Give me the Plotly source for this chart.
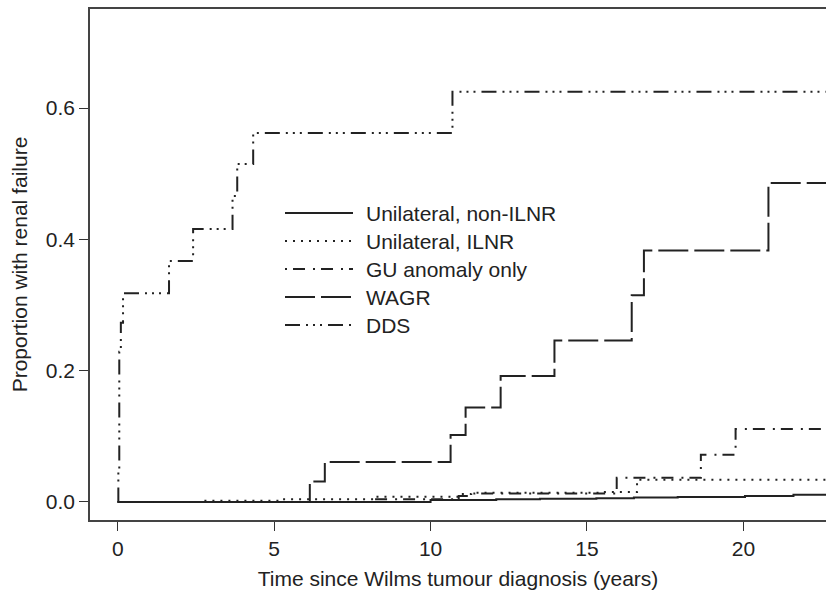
import plotly.graph_objects as go

X_END = 22.64

# Step-function (Kaplan-Meier style) data
non_ilnr_t = [0, 10.0, 12.1, 13.5, 15.3, 16.5, 17.9, 20.05, 21.6, X_END]
non_ilnr_p = [0, 0.003, 0.004, 0.005, 0.0058, 0.0066, 0.0076, 0.009, 0.011, 0.011]

ilnr_t = [0, 2.6, 5.2, 8.2, 10.9, 11.3, 15.5, 16.6, X_END]
ilnr_p = [0, 0.002, 0.004, 0.008, 0.012, 0.014, 0.015, 0.034, 0.034]

gu_t = [0, 8.2, 10.9, 11.4, 15.95, 18.64, 19.75, X_END]
gu_p = [0, 0.004, 0.009, 0.013, 0.037, 0.072, 0.111, 0.111]

wagr_t = [0, 6.14, 6.62, 10.64, 11.12, 12.24, 13.96, 16.43, 16.82, 20.8, X_END]
wagr_p = [0, 0.031, 0.061, 0.102, 0.144, 0.192, 0.246, 0.315, 0.383, 0.486, 0.486]

dds_t = [0, 0.02, 0.05, 0.1, 0.17, 1.64, 2.41, 3.67, 3.82, 4.33, 10.7, X_END]
dds_p = [0, 0.046, 0.229, 0.273, 0.318, 0.367, 0.416, 0.466, 0.515, 0.562, 0.625, 0.625]

series_names = ["Unilateral, non-ILNR", "Unilateral, ILNR", "GU anomaly only", "WAGR", "DDS"]
series_t = [non_ilnr_t, ilnr_t, gu_t, wagr_t, dds_t]
series_p = [non_ilnr_p, ilnr_p, gu_p, wagr_p, dds_p]
dashes = ["solid", "2px,6px", "2px,6px,12px,8px", "30px,6px",
          "15px,6px,2px,5px,2px,5px,2px,6px"]

x_ticks = [0, 5, 10, 15, 20]
y_ticks = [0.0, 0.2, 0.4, 0.6]
y_tick_labels = ["0.0", "0.2", "0.4", "0.6"]

LINE = "#222222"
FONT = "Liberation Sans, Arial, Helvetica, sans-serif"
FS = 21

FIG_W, FIG_H = 826, 598
L, T, B, R = 90, 9, FIG_H - 520, 0

fig = go.Figure()
for name, t, p, d in zip(series_names, series_t, series_p, dashes):
    fig.add_trace(go.Scatter(x=t, y=p, mode="lines", name=name,
                             line=dict(shape="hv", color=LINE, width=2, dash=d),
                             showlegend=False, hoverinfo="skip"))

# custom legend (long line samples like the original)
W = FIG_W - L - R
H = FIG_H - T - B
row_px = [213, 241, 269, 297, 325]
for name, d, ry in zip(series_names, dashes, row_px):
    yp = (520 - ry) / H
    fig.add_shape(type="line", xref="paper", yref="paper",
                  x0=(285 - 90) / W, x1=(353 - 90) / W, y0=yp, y1=yp,
                  line=dict(color=LINE, width=2, dash=d))
    fig.add_annotation(xref="paper", yref="paper", x=(364 - 90) / W, y=yp,
                       text=name, showarrow=False, xanchor="left", yanchor="middle",
                       font=dict(size=FS, color=LINE, family=FONT))

fig.update_layout(
    width=FIG_W, height=FIG_H,
    margin=dict(l=L, r=R, t=T, b=B, autoexpand=False),
    plot_bgcolor="white", paper_bgcolor="white",
    font=dict(family=FONT, size=FS, color=LINE),
    xaxis=dict(range=[-0.886, X_END], tickvals=x_ticks, ticks="outside", ticklen=9,
               tickwidth=1.3, tickcolor="#333", showline=True, mirror=True,
               linecolor="#444", linewidth=1.5, showgrid=False, zeroline=False,
               tickfont=dict(size=FS), title=dict(text="Time since Wilms tumour diagnosis (years)",
                                                  font=dict(size=FS), standoff=12)),
    yaxis=dict(range=[-0.0275, 0.751], tickvals=y_ticks, ticktext=y_tick_labels,
               ticks="outside", ticklen=9, tickwidth=1.3, tickcolor="#333",
               showline=True, mirror=False, linecolor="#444", linewidth=1.5,
               showgrid=False, zeroline=False, tickfont=dict(size=FS),
               title=dict(text="Proportion with renal failure", font=dict(size=FS), standoff=12)),
)

fig.write_html(
    "out.html",
    config={"displayModeBar": False},
    post_script="document.body.style.margin='0';document.body.style.overflow='hidden';",
)
